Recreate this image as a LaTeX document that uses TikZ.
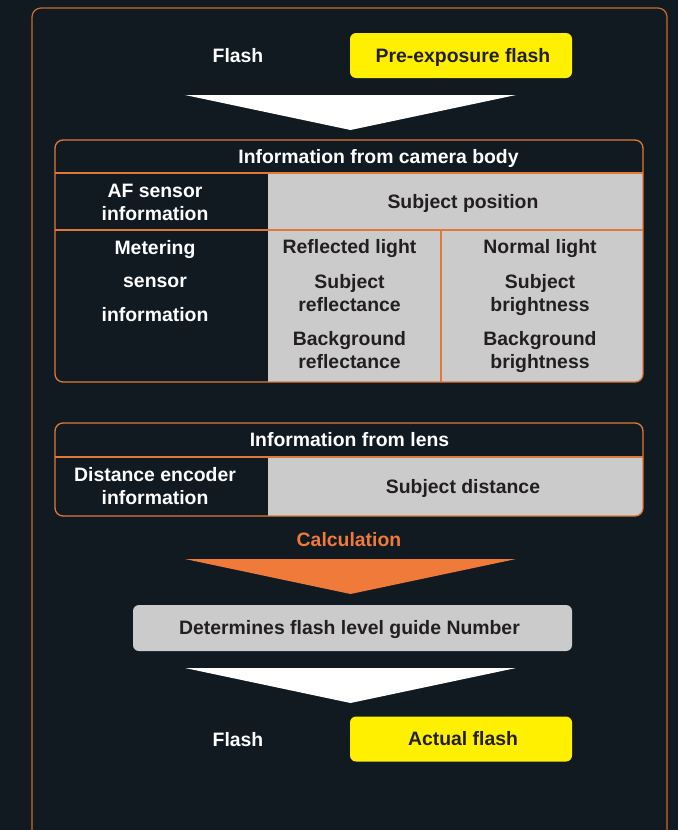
\documentclass[tikz,border=0pt]{standalone}
\usepackage{fontspec}
\setmainfont{Liberation Sans}
\definecolor{bgc}{HTML}{111A21}
\definecolor{outerc}{HTML}{C96B33}
\definecolor{linec}{HTML}{E07838}
\definecolor{cellgray}{HTML}{CBCBCB}
\definecolor{flashy}{HTML}{FFF000}
\definecolor{calcor}{HTML}{F07A3A}
\definecolor{txtdark}{HTML}{231F20}
\begin{document}
\begin{tikzpicture}[x=1pt,y=-1pt,
  lbl/.style={font=\fontsize{19.4}{23}\selectfont\bfseries, align=center, inner sep=0pt},
  one/.style={lbl, text height=13.9pt, text depth=0pt},
  wt/.style={lbl, text=white},
  dk/.style={lbl, text=txtdark},
  wtone/.style={one, text=white},
  dkone/.style={one, text=txtdark},
  ybox/.style={one, text=txtdark, fill=flashy, rounded corners=6pt, minimum width=222pt, minimum height=45pt},
  gbox/.style={one, text=txtdark, fill=cellgray, rounded corners=6pt, minimum width=439pt, minimum height=46pt},
  tline/.style={draw=linec, line width=1.3pt},
  outer/.style={draw=outerc, line width=1.2pt}]
\useasboundingbox (0,0) rectangle (678,830);
\fill[bgc] (0,0) rectangle (678,830);
\begin{scope}
  \clip (0,0) rectangle (678,830);
  \draw[outer, rounded corners=9pt] (32,8) rectangle (667,860);
\end{scope}

% top flash row
\node[wtone] (flash1) at (238,56) {Flash};
\node[ybox] (pre) at (461,55.5) {\hspace*{4pt}Pre-exposure flash};

% white arrow 1
\coordinate (a1l) at (185,95);
\coordinate (a1r) at (516,95);
\coordinate (a1t) at (350.5,130);
\fill[white] (a1l) -- (a1r) -- (a1t) -- cycle;

% camera body table
\begin{scope}
  \clip[rounded corners=8pt] (55,140) rectangle (643,382);
  \fill[cellgray] (268,173) rectangle (643,382);
\end{scope}
\draw[tline] (55,173) -- (643,173);
\draw[tline] (55,230) -- (643,230);
\draw[tline, line width=1.6pt] (441,230) -- (441,382);
\draw[tline, rounded corners=8pt] (55,140) rectangle (643,382);

\node[wtone] (camhead) at (378.5,157) {Information from camera body};
\node[wt] (afs) at (155,202.5) {AF sensor\\information};
\node[dkone] (subpos) at (463,202) {Subject position};
\node[wt, font=\fontsize{19.4}{33.5}\selectfont\bfseries] (meter) at (155,281) {Metering\\sensor\\information};
\node[dkone] (refl) at (349.5,247) {Reflected light};
\node[dkone] (norm) at (540,247) {Normal light};
\node[dk] (subrefl) at (349.5,293.5) {Subject\\reflectance};
\node[dk] (subbri) at (540,295.5) {Subject\\brightness};
\node[dk] (bgrefl) at (349.5,350.5) {Background\\reflectance};
\node[dk] (bgbri) at (540,352.5) {Background\\brightness};

% lens table
\begin{scope}
  \clip[rounded corners=8pt] (55,423) rectangle (643,516);
  \fill[cellgray] (268,457) rectangle (643,516);
\end{scope}
\draw[tline] (55,457) -- (643,457);
\draw[tline, rounded corners=8pt] (55,423) rectangle (643,516);

\node[wtone] (lenshead) at (349.5,440) {Information from lens};
\node[wt] (dist) at (155,486.5) {Distance encoder\\information};
\node[dkone] (subdist) at (463,487) {Subject distance};

% calculation
\node[one, text=calcor] (calc) at (349,540) {Calculation};
\coordinate (a2l) at (185,559);
\coordinate (a2r) at (516,559);
\coordinate (a2t) at (350.5,594);
\fill[calcor] (a2l) -- (a2r) -- (a2t) -- cycle;

\node[gbox] (det) at (352.5,628) {Determines flash level guide Number\hspace*{6pt}};

\coordinate (a3l) at (185,668);
\coordinate (a3r) at (516,668);
\coordinate (a3t) at (350.5,703);
\fill[white] (a3l) -- (a3r) -- (a3t) -- cycle;

\node[wtone] (flash2) at (238,740) {Flash};
\node[ybox] (act) at (461,739) {\hspace*{4pt}Actual flash};
\end{tikzpicture}
\end{document}
